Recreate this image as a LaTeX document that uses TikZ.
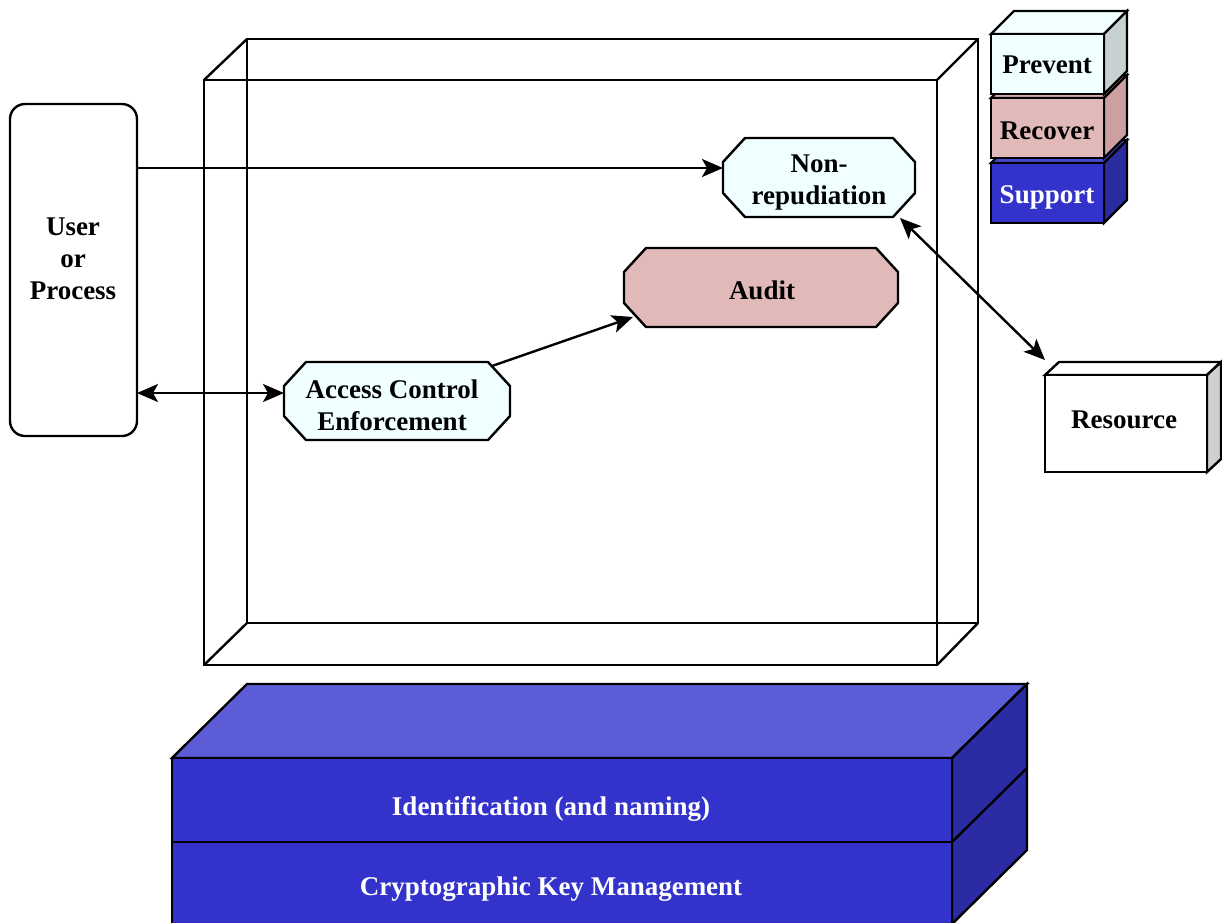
\documentclass[tikz,border=0pt]{standalone}
\usepackage{fontspec}
\setmainfont{Liberation Serif}
\usetikzlibrary{arrows.meta,calc}
\pgfdeclarelayer{bg}
\pgfsetlayers{bg,main}
\definecolor{prevfill}{HTML}{F0FFFF}
\definecolor{prevside}{HTML}{C6D2D2}
\definecolor{prevtop}{HTML}{F2FFFF}
\definecolor{recfill}{HTML}{E2B9B9}
\definecolor{recside}{HTML}{CCA0A0}
\definecolor{rectop}{HTML}{D8ABAB}
\definecolor{supfill}{HTML}{3333CC}
\definecolor{supside}{HTML}{2B2BA0}
\definecolor{suptop}{HTML}{4747D0}
\definecolor{slabtop}{HTML}{5C5CD6}
\definecolor{slabfront}{HTML}{3333CC}
\definecolor{slabside}{HTML}{2B2BA3}
\definecolor{resside}{HTML}{D0D0D0}
\newcommand\octpath[2]{%
  \begin{pgfonlayer}{bg}
  \draw[fill=#2] ($(#1.north west)+(22,0)$) -- ($(#1.north east)+(-22,0)$)
    -- ($(#1.north east)+(0,24)$) -- ($(#1.south east)+(0,-24)$)
    -- ($(#1.south east)+(-22,0)$) -- ($(#1.south west)+(22,0)$)
    -- ($(#1.south west)+(0,-24)$) -- ($(#1.north west)+(0,24)$) -- cycle;
  \end{pgfonlayer}}
\newcommand\boxfaces[5]{%
  \begin{pgfonlayer}{bg}
  \draw[fill=#4] (#1.north west) -- ++(#2,-#3) -- ($(#1.north east)+(#2,-#3)$) -- (#1.north east) -- cycle;
  \draw[fill=#5] (#1.north east) -- ++(#2,-#3) -- ($(#1.south east)+(#2,-#3)$) -- (#1.south east) -- cycle;
  \end{pgfonlayer}}
\begin{document}
\begin{tikzpicture}[x=1pt,y=-1pt,
  every path/.append style={line width=2.4pt,line join=miter},
  txt/.style={font=\fontsize{27}{32}\selectfont\bfseries,align=center},
  octo/.style={inner sep=0pt,outer sep=0pt},
  cube/.style={draw,inner sep=0pt,outer sep=0pt},
  arr/.style={-{Stealth[length=21pt,width=18pt,inset=5pt]}},
  darr/.style={{Stealth[length=21pt,width=18pt,inset=5pt]}-{Stealth[length=21pt,width=18pt,inset=5pt]}}]
\useasboundingbox (0,0) rectangle (1222,922);

% wireframe box
\begin{pgfonlayer}{bg}
\draw (204,80) rectangle (937,665);
\draw (247,39) rectangle (978,623);
\draw (204,80) -- (247,39);
\draw (937,80) -- (978,39);
\draw (204,665) -- (247,623);
\draw (937,665) -- (978,623);
\end{pgfonlayer}

% user
\node[cube,fill=white,rounded corners=15pt,minimum width=127pt,minimum height=332pt] (user) at (73.5,270) {};
\node[txt] (usertxt) at (73,259) {User\\or\\Process};

% octagons
\node[octo,minimum width=226pt,minimum height=78pt] (ace) at (397,401) {};
\octpath{ace}{prevfill}
\node[txt] (acetxt) at (392,405) {Access Control\\Enforcement};
\node[octo,minimum width=192pt,minimum height=79pt] (nonrep) at (819,177.5) {};
\octpath{nonrep}{prevfill}
\node[txt] (nonreptxt) at (819,183) {Non-\\repudiation};
\node[octo,minimum width=274pt,minimum height=79pt] (audit) at (761,287.5) {};
\octpath{audit}{recfill}
\node[txt] (audittxt) at (762,290) {Audit};

% resource
\node[cube,fill=white,minimum width=162pt,minimum height=97pt] (res) at (1126,423.5) {};
\boxfaces{res}{14}{13}{white}{resside}
\node[txt] (restxt) at (1124,420) {Resource};

% legend
\node[cube,fill=supfill,minimum width=113pt,minimum height=60pt] (sup) at (1047.5,193) {};
\boxfaces{sup}{23}{23}{suptop}{supside}
\node[cube,fill=recfill,minimum width=113pt,minimum height=60pt] (rec) at (1047.5,128) {};
\boxfaces{rec}{23}{23}{rectop}{recside}
\node[cube,fill=prevfill,minimum width=113pt,minimum height=60pt] (prev) at (1047.5,64) {};
\boxfaces{prev}{23}{23}{prevtop}{prevside}
\node[txt] (prevtxt) at (1047,65) {Prevent};
\node[txt] (rectxt) at (1047,131) {Recover};
\node[txt,text=white] (suptxt) at (1047,197) {Support};

% bottom slab
\draw[fill=slabtop] (172,758) -- (247,684) -- (1027,684) -- (952,758) -- cycle;
\draw[fill=slabside] (952,758) -- (1027,684) -- (1027,850) -- (952,924) -- cycle;
\draw[fill=slabfront] (172,758) rectangle (952,842);
\draw[fill=slabfront] (172,842) rectangle (952,924);
\draw (952,842) -- (1027,768);
\node[txt,text=white] (ident) at (551,809) {Identification (and naming)};
\node[txt,text=white] (crypto) at (551,889) {Cryptographic Key Management};

% connectors
\draw[arr] ([yshift=102pt]user.east) -- ([yshift=9.5pt]nonrep.west);
\draw[darr] ([yshift=-123pt]user.east) -- ([yshift=8pt]ace.west);
\draw[arr] ($(ace.north east)+(-18,4)$) -- ($(audit.south west)+(9,-10)$);
\draw[darr] ($(nonrep.south east)+(-15,1)$) -- ($(res.north west)+(0,-15)$);
\end{tikzpicture}
\end{document}
